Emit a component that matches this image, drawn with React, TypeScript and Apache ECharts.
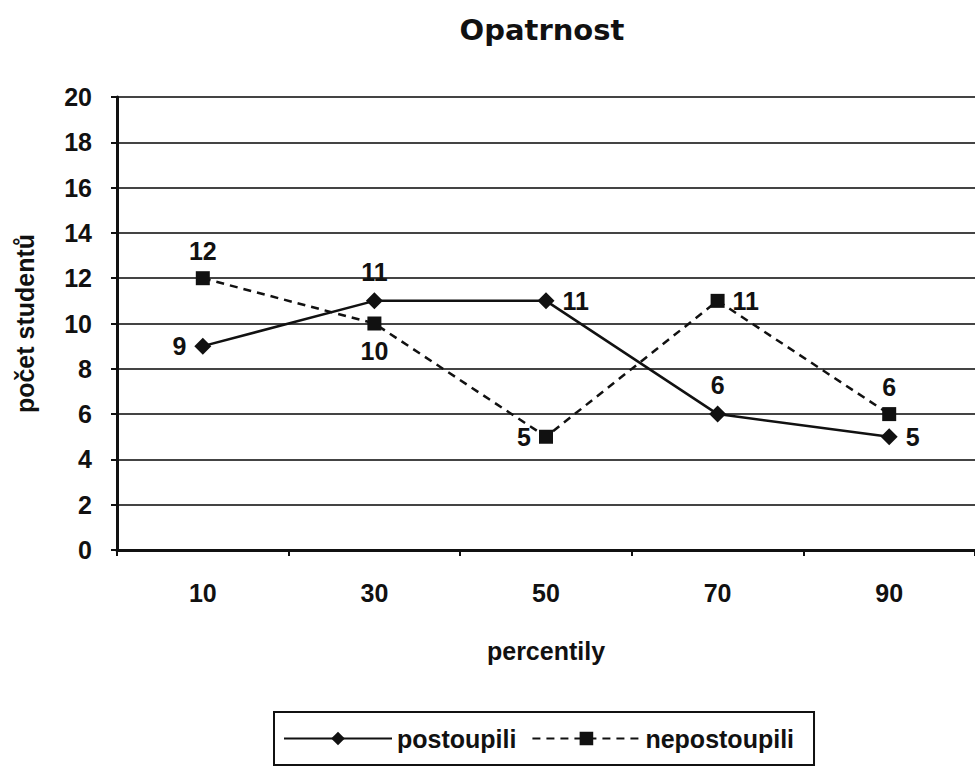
import React, { useEffect, useRef } from "react";
import * as echarts from "echarts";

const categories = ["10", "30", "50", "70", "90"];
const postoupili = [9, 11, 11, 6, 5];
const nepostoupili = [12, 10, 5, 11, 6];
const postoupiliLabelPos = ["left", "top", "right", "top", "right"];
const nepostoupiliLabelPos = ["top", "bottom", "left", "right", "top"];

export default function App() {
  const ref = useRef<HTMLDivElement>(null);
  useEffect(() => {
    const chart = echarts.init(ref.current!, null, { renderer: "svg" });
    const font = "Liberation Sans, Arial, sans-serif";
    const txt = { fontSize: 25, fontWeight: "bold", fontFamily: font, color: "#111" };
    const labelBase = { show: true, ...txt, distance: 8 };
    chart.setOption({
      animation: false,
      backgroundColor: "#fff",
      title: {
        text: "Opatrnost",
        left: 537,
        top: 10,
        textAlign: "center",
        textStyle: { fontSize: 29, fontWeight: "bold", fontFamily: "DejaVu Sans, sans-serif", color: "#111" },
      },
      grid: { left: 117, right: -5, top: 97, bottom: 217 },
      legend: {
        left: 274,
        top: 712,
        padding: [14, 20, 14, 9],
        borderColor: "#111",
        borderWidth: 2,
        itemWidth: 108,
        itemHeight: 17,
        itemGap: 15,
        textStyle: { ...txt },
        data: ["postoupili", "nepostoupili"],
      },
      xAxis: {
        type: "category",
        data: categories,
        boundaryGap: true,
        name: "percentily",
        nameLocation: "middle",
        nameGap: 88,
        nameTextStyle: { ...txt },
        axisLine: { lineStyle: { color: "#111", width: 3 } },
        axisTick: { show: true, length: 6, lineStyle: { color: "#111", width: 2 } },
        axisLabel: { ...txt, margin: 30 },
      },
      yAxis: {
        type: "value",
        min: 0,
        max: 20,
        interval: 2,
        name: "počet studentů",
        nameLocation: "middle",
        nameGap: 80,
        nameTextStyle: { ...txt },
        axisLine: { show: true, lineStyle: { color: "#111", width: 3 } },
        axisTick: { show: true, length: 6, lineStyle: { color: "#111", width: 2 } },
        axisLabel: { ...txt, margin: 25 },
        splitLine: { show: true, lineStyle: { color: "#444", width: 2 } },
      },
      series: [
        {
          name: "postoupili",
          type: "line",
          data: postoupili.map((v, i) => ({ value: v, label: { ...labelBase, position: postoupiliLabelPos[i] } })),
          symbol: "diamond",
          symbolSize: 17,
          lineStyle: { color: "#111", width: 2.5, type: "solid" },
          itemStyle: { color: "#111" },
          label: labelBase,
          z: 3,
        },
        {
          name: "nepostoupili",
          type: "line",
          data: nepostoupili.map((v, i) => ({ value: v, label: { ...labelBase, position: nepostoupiliLabelPos[i] } })),
          symbol: "rect",
          symbolSize: 14,
          lineStyle: { color: "#111", width: 2.5, type: [8, 6] },
          itemStyle: { color: "#111" },
          label: labelBase,
          z: 2,
        },
      ],
    });
    return () => chart.dispose();
  }, []);
  return <div ref={ref} style={{ width: 975, height: 767, position: "absolute", left: 0, top: 0 }} />;
}
